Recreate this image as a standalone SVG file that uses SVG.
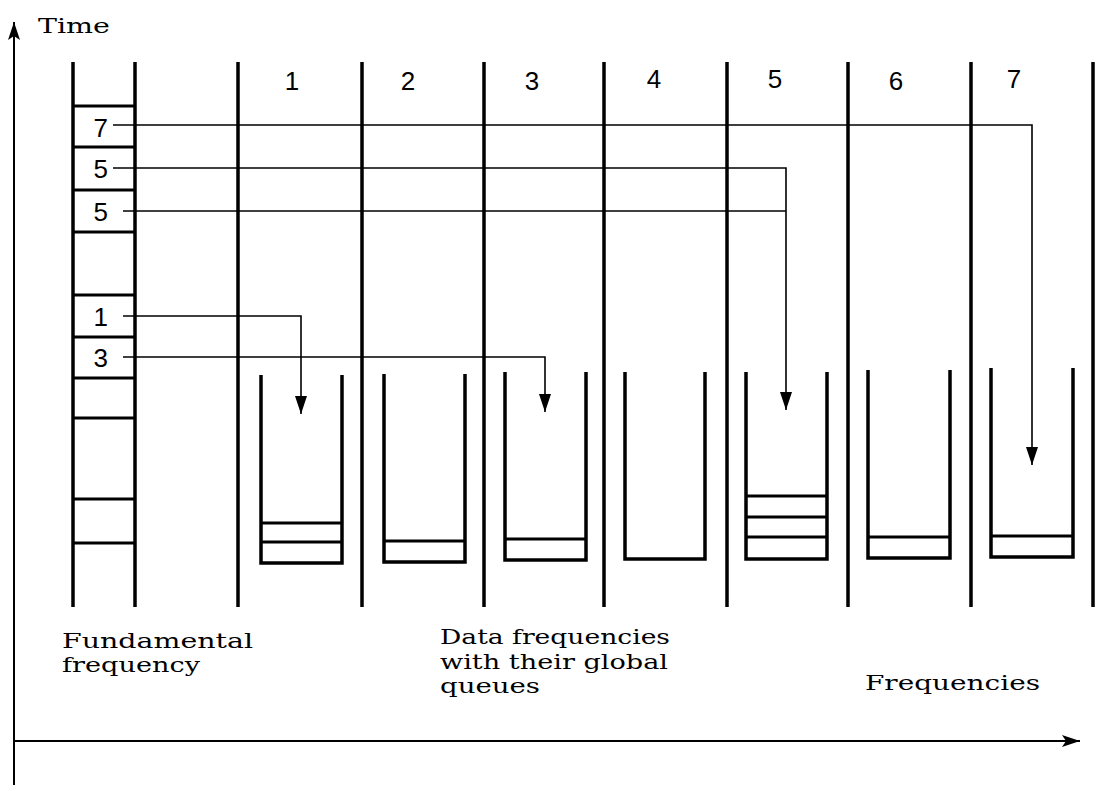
<svg xmlns="http://www.w3.org/2000/svg" width="1097" height="791" viewBox="0 0 1097 791">
<style>
.wall{stroke:#000;stroke-width:3.5;fill:none;stroke-linecap:butt}
.slot{stroke:#000;stroke-width:3;fill:none}
.conn{stroke:#000;stroke-width:1.6;fill:none}
.axis{stroke:#000;stroke-width:2;fill:none}
.num{font-family:"Liberation Sans",Arial,sans-serif;font-size:26px;fill:#000}
.lbl{font-family:"DejaVu Serif","Liberation Serif",serif;font-size:21px;fill:#000}
</style>
<defs>
<marker id="ah" markerUnits="userSpaceOnUse" markerWidth="18" markerHeight="12" refX="18" refY="6" orient="auto" viewBox="0 0 18 12">
<path d="M0,0 L18,6 L0,12 Z" fill="#000"/>
</marker>
<marker id="axh" markerUnits="userSpaceOnUse" markerWidth="18" markerHeight="12" refX="18" refY="6" orient="auto" viewBox="0 0 18 12">
<path d="M0,0 L18,6 L0,12 L4,6 Z" fill="#000"/>
</marker>
</defs>
<rect width="1097" height="791" fill="#fff"/>
<g id="axes">
<line class="axis" x1="14" y1="785" x2="14" y2="22" marker-end="url(#axh)"/>
<line class="axis" x1="14" y1="741" x2="1080" y2="741" marker-end="url(#axh)"/>
<text class="lbl" x="38" y="33" textLength="72" lengthAdjust="spacingAndGlyphs">Time</text>
<text class="lbl" x="865" y="690" textLength="175" lengthAdjust="spacingAndGlyphs">Frequencies</text>
</g>
<g id="fundamental">
<line class="wall" x1="73" y1="62" x2="73" y2="607"/>
<line class="wall" x1="135" y1="62" x2="135" y2="607"/>
<path class="slot" d="M73,106H135M73,147H135M73,190H135M73,232H135M73,295H135M73,337H135M73,378H135M73,418H135M73,499H135M73,543H135"/>
<text class="num" x="108" y="137" text-anchor="end">7</text>
<text class="num" x="108" y="178" text-anchor="end">5</text>
<text class="num" x="108" y="221" text-anchor="end">5</text>
<text class="num" x="108" y="326" text-anchor="end">1</text>
<text class="num" x="108" y="367" text-anchor="end">3</text>
<text class="lbl" x="62" y="648" textLength="191" lengthAdjust="spacingAndGlyphs">Fundamental</text>
<text class="lbl" x="62" y="672" textLength="138" lengthAdjust="spacingAndGlyphs">frequency</text>
</g>
<g id="separators">
<path class="wall" d="M238,62V607M362,62V607M484,62V607M604,62V607M727,62V607M848,62V607M971,62V607M1093,62V607"/>
</g>
<g id="labels">
<text class="num" x="292" y="90" text-anchor="middle">1</text>
<text class="num" x="408" y="90" text-anchor="middle">2</text>
<text class="num" x="532" y="90" text-anchor="middle">3</text>
<text class="num" x="654" y="88" text-anchor="middle">4</text>
<text class="num" x="775" y="88" text-anchor="middle">5</text>
<text class="num" x="896" y="90" text-anchor="middle">6</text>
<text class="num" x="1014" y="88" text-anchor="middle">7</text>
<text class="lbl" x="440" y="644" textLength="230" lengthAdjust="spacingAndGlyphs">Data frequencies</text>
<text class="lbl" x="440" y="669" textLength="228" lengthAdjust="spacingAndGlyphs">with their global</text>
<text class="lbl" x="440" y="693" textLength="100" lengthAdjust="spacingAndGlyphs">queues</text>
</g>
<g id="queue1">
<path class="wall" d="M261,375V563H342V375"/>
<path class="slot" d="M261,523H342M261,542H342"/>
</g>
<g id="queue2">
<path class="wall" d="M384,374V562H465V374"/>
<path class="slot" d="M384,541H465"/>
</g>
<g id="queue3">
<path class="wall" d="M505,372V560H586V372"/>
<path class="slot" d="M505,539H586"/>
</g>
<g id="queue4">
<path class="wall" d="M625,372V559H705V372"/>
</g>
<g id="queue5">
<path class="wall" d="M746,372V559H827V372"/>
<path class="slot" d="M746,496H827M746,517H827M746,537H827"/>
</g>
<g id="queue6">
<path class="wall" d="M868,370V558H950V370"/>
<path class="slot" d="M868,537H950"/>
</g>
<g id="queue7">
<path class="wall" d="M991,368V557H1073V368"/>
<path class="slot" d="M991,536H1073"/>
</g>
<g id="connectors">
<path class="conn" d="M113,125H1032V465" marker-end="url(#ah)"/>
<path class="conn" d="M113,168H786V410" marker-end="url(#ah)"/>
<path class="conn" d="M123,211H786"/>
<path class="conn" d="M123,316H301V414" marker-end="url(#ah)"/>
<path class="conn" d="M123,357H545V412" marker-end="url(#ah)"/>
</g>
</svg>
